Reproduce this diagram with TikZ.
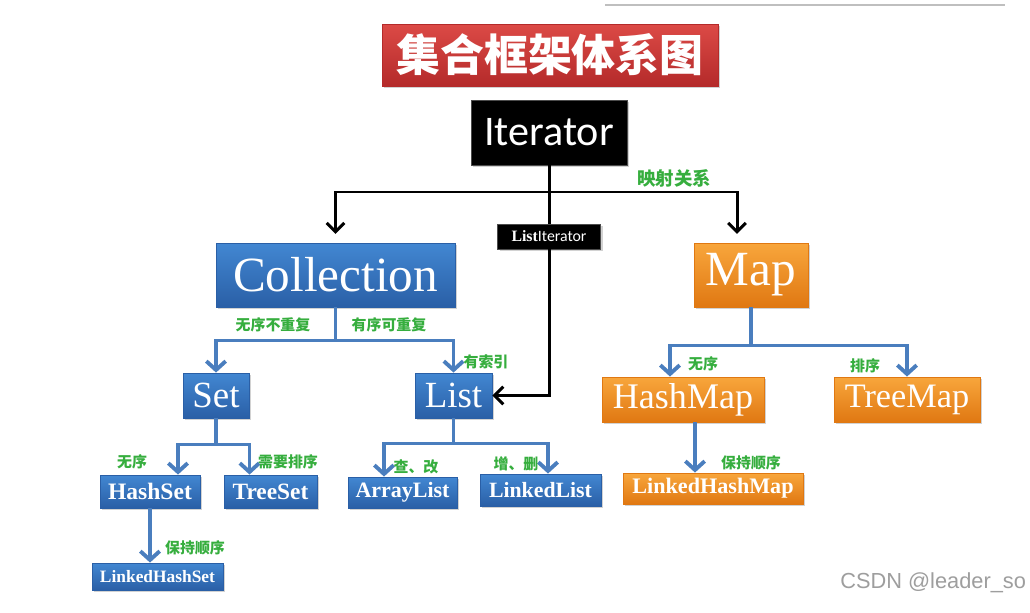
\documentclass[tikz,border=0pt]{standalone}
\usepackage{fontspec}
\setmainfont{Liberation Serif}
\newfontfamily\cjkfont{Noto Sans CJK SC}
\newfontfamily\calfont{Carlito}
\newfontfamily\markfont{Liberation Sans}
\usetikzlibrary{arrows.meta, shadows}

\definecolor{boxblue}{HTML}{4287D2}
\definecolor{boxbluedk}{HTML}{2A5FA6}
\definecolor{boxorange}{HTML}{F8A63C}
\definecolor{boxorangedk}{HTML}{E07812}
\definecolor{boxred}{HTML}{DC4A46}
\definecolor{boxreddk}{HTML}{B42A2A}
\definecolor{linkblue}{HTML}{4A7EBE}
\definecolor{notegreen}{HTML}{36AE3E}

\begin{document}
\begin{tikzpicture}[x=0.02cm, y=-0.02cm,
  box/.style={text=white, inner sep=0pt, line width=0.5pt,
    drop shadow={opacity=0.35, shadow xshift=1.2pt, shadow yshift=-1.2pt}},
  bluebox/.style={box, top color=boxblue, bottom color=boxbluedk, draw=boxbluedk},
  orangebox/.style={box, top color=boxorange, bottom color=boxorangedk, draw=boxorangedk},
  blackbox/.style={box, fill=black, draw=black!70},
  note/.style={text=notegreen, font=\cjkfont\bfseries\fontsize{8.5}{9}\selectfont, inner sep=0pt},
  bline/.style={draw=linkblue, line width=2.2pt},
  barrow/.style={bline, -{Straight Barb[length=5pt, width=11pt]}},
  kline/.style={draw=black, line width=1.7pt},
  karrow/.style={kline, -{Straight Barb[length=5pt, width=10pt]}, shorten >=5pt}]
  \clip (0,0) rectangle (1030,612);
  \fill[white] (0,0) rectangle (1030,612);
  \draw[black!25, line width=0.6pt] (605,5) -- (1005,5);

  % title and iterators
  \node[box, top color=boxred, bottom color=boxreddk, draw=boxreddk, minimum width=6.72cm, minimum height=1.24cm,
    font=\cjkfont\bfseries\fontsize{25}{26}\selectfont] (title) at (550,55) {集合框架体系图};
  \node[blackbox, minimum width=3.12cm, minimum height=1.3cm, font=\calfont\fontsize{24}{26}\selectfont] (iter) at (549,132.5) {Iterator};
  \node[blackbox, minimum width=2.06cm, minimum height=0.5cm, font=\fontsize{9}{10}\selectfont] (listit) at (549,236.5) {\textbf{List}{\calfont Iterator}};

  % top level
  \node[bluebox, minimum width=4.78cm, minimum height=1.28cm, font=\fontsize{28}{30}\selectfont] (coll) at (335.5,275) {Collection};
  \node[orangebox, minimum width=2.28cm, minimum height=1.28cm, font=\fontsize{28}{30}\selectfont] (map) at (751,275) {Map};

  % second level
  \node[bluebox, minimum width=1.32cm, minimum height=0.9cm, font=\fontsize{21}{22}\selectfont] (set) at (216,395.5) {Set};
  \node[bluebox, minimum width=1.54cm, minimum height=0.9cm, font=\fontsize{21}{22}\selectfont] (list) at (453.5,395.5) {List};
  \node[orangebox, minimum width=3.24cm, minimum height=0.9cm, font=\fontsize{20.5}{22}\selectfont] (hmap) at (683,399.5) {HashMap};
  \node[orangebox, minimum width=2.92cm, minimum height=0.9cm, font=\fontsize{19.5}{22}\selectfont] (tmap) at (907,399.5) {TreeMap};

  % third level
  \node[bluebox, minimum width=2cm, minimum height=0.66cm, font=\bfseries\fontsize{13.4}{15}\selectfont] (hset) at (150,491.5) {HashSet};
  \node[bluebox, minimum width=1.86cm, minimum height=0.66cm, font=\bfseries\fontsize{13.3}{15}\selectfont] (tset) at (270.5,491.5) {TreeSet};
  \node[bluebox, minimum width=2.18cm, minimum height=0.62cm, font=\bfseries\fontsize{12.5}{15}\selectfont] (alist) at (402.5,492.5) {ArrayList};
  \node[bluebox, minimum width=2.42cm, minimum height=0.64cm, font=\bfseries\fontsize{12.4}{15}\selectfont] (llist) at (540.5,490) {LinkedList};
  \node[orangebox, minimum width=3.6cm, minimum height=0.62cm, font=\bfseries\fontsize{12.6}{15}\selectfont] (lhmap) at (713,488.5) {LinkedHashMap};
  \node[bluebox, minimum width=2.62cm, minimum height=0.54cm, font=\bfseries\fontsize{9.9}{12}\selectfont] (lhset) at (157.5,576.5) {LinkedHashSet};

  % black connectors
  \coordinate (hub) at (549,192);
  \draw[kline] (iter.south) -- (hub) -- (listit.north);
  \draw[karrow] (hub) -| (coll.north);
  \draw[karrow] (hub) -| ([xshift=-0.28cm]map.north);
  \draw[kline, -{Straight Barb[length=5pt, width=10pt]}] (listit.south) |- (list.east);

  % blue connectors
  \draw[barrow] (coll.south) -- ++(0,33) -| (set.north);
  \draw[barrow] (coll.south) -- ++(0,33) -| (list.north);
  \draw[barrow] (set.south) -- ++(0,26) -| ([xshift=0.56cm]hset.north);
  \draw[barrow] (set.south) -- ++(0,26) -| ([xshift=-0.42cm]tset.north);
  \draw[barrow] (hset.south) -- (hset.south |- lhset.north);
  \draw[barrow] (list.south) -- ++(0,25) -| ([xshift=-0.37cm]alist.north);
  \draw[barrow] (list.south) -- ++(0,25) -| ([xshift=0.15cm]llist.north);
  \draw[barrow] (map.south) -- ++(0,38) -| ([xshift=-0.26cm]hmap.north);
  \draw[barrow] (map.south) -- ++(0,38) -| (tmap.north);
  \draw[barrow] ([xshift=0.24cm]hmap.south) -- ([xshift=0.24cm]hmap.south |- lhmap.north);

  % notes
  \node[note, font=\cjkfont\bfseries\fontsize{10.5}{11}\selectfont] (nmap) at (674,178) {映射关系};
  \node[note] (nunord) at (273,325) {无序不重复};
  \node[note] (nord) at (389,325) {有序可重复};
  \node[note] (nidx) at (486,362) {有索引};
  \node[note] (nhset) at (132,462) {无序};
  \node[note] (ntset) at (288,462) {需要排序};
  \node[note] (nlhset) at (195,548) {保持顺序};
  \node[note] (nalist) at (416,467) {查、改};
  \node[note] (nllist) at (516,464) {增、删};
  \node[note] (nhmap) at (703,364) {无序};
  \node[note] (ntmap) at (865,366) {排序};
  \node[note] (nlhmap) at (751,463) {保持顺序};

  \node[anchor=west, text=black!38, font=\markfont\fontsize{12.4}{13}\selectfont, inner sep=0pt] (mark) at (840,583) {CSDN @leader\_so};
\end{tikzpicture}
\end{document}
